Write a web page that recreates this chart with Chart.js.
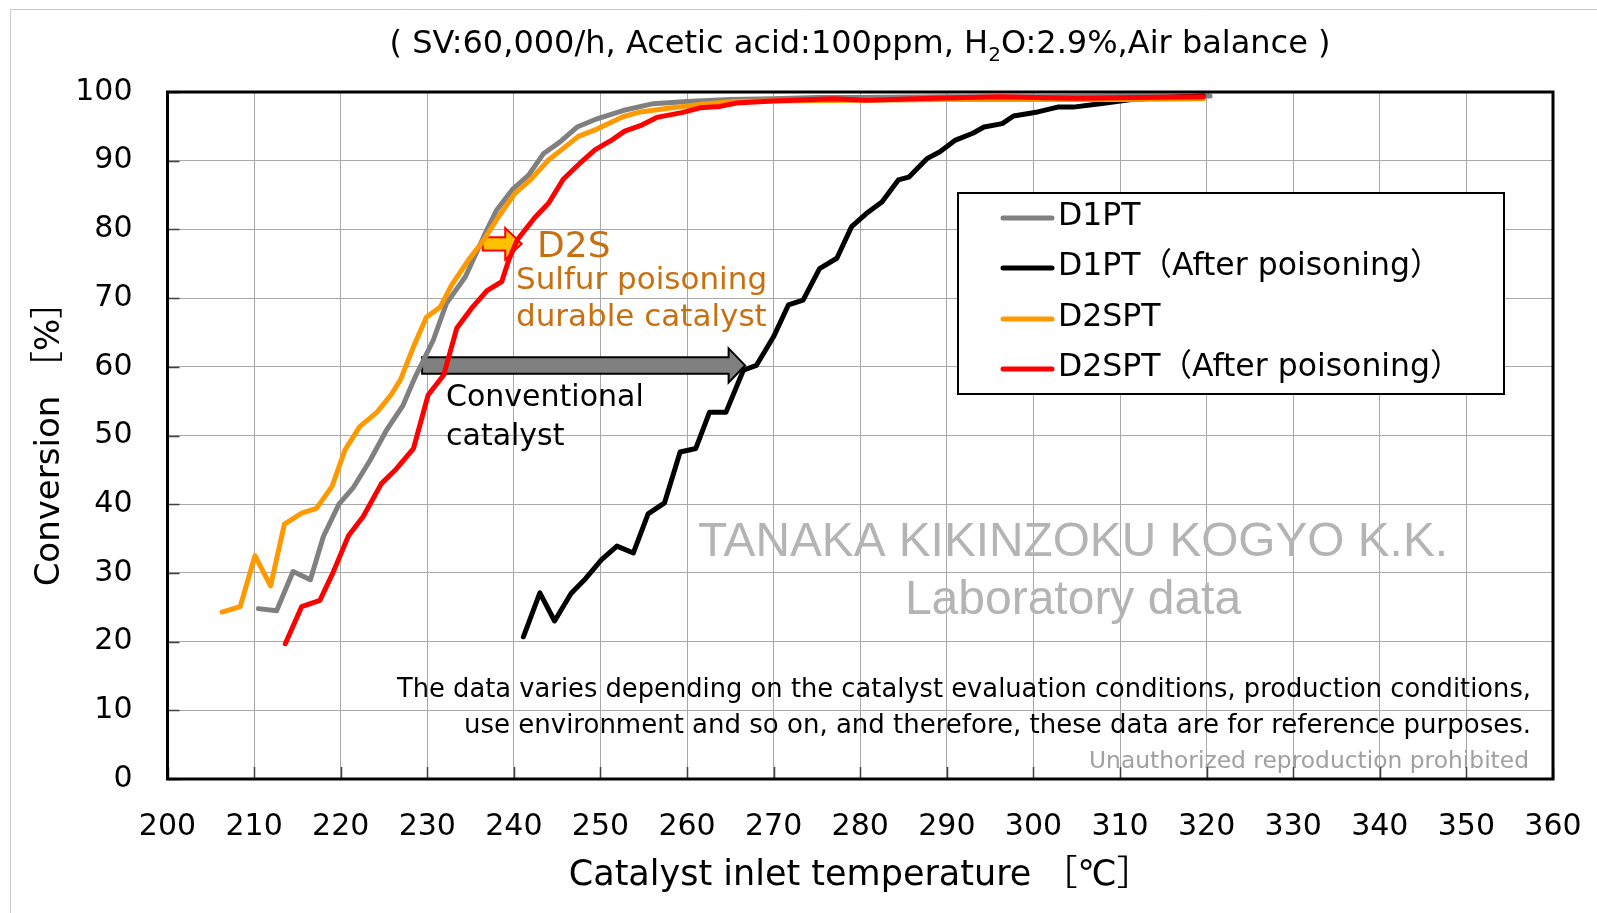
<!DOCTYPE html>
<html>
<head>
<meta charset="utf-8">
<script src="https://cdn.jsdelivr.net/npm/chart.js@4.4.1/dist/chart.umd.min.js"></script>
<style>
  html, body { margin: 0; padding: 0; background: #fff; }
  canvas { display: block; }
</style>
</head>
<body>
<canvas id="lightoffChart" width="1597" height="913"></canvas>
<script>
// light-off curves: inlet temperature (°C) / conversion (%)
var d1ptTemp = [210.5, 212.6, 214.5, 216.5, 218.0, 219.8, 221.5, 223.4, 225.3, 227.2, 228.6, 230.7, 232.2, 234.4, 236.5, 238.0, 239.9, 241.7, 243.4, 245.3, 247.3, 249.6, 252.6, 256.1, 260.0, 265.0, 270.0, 275.0, 280.0, 290.0, 300.0, 310.0, 320.4];
var d1ptConv = [24.8, 24.5, 30.2, 29.0, 35.3, 40.0, 42.5, 46.4, 50.8, 54.4, 58.5, 63.9, 69.2, 73.1, 78.9, 82.8, 85.9, 87.9, 91.0, 92.7, 94.9, 96.1, 97.3, 98.3, 98.6, 98.9, 99.0, 99.2, 99.2, 99.3, 99.3, 99.4, 99.4];

var d1ptPoisonTemp = [241.1, 243.0, 244.7, 246.6, 248.3, 250.1, 251.9, 253.8, 255.5, 257.4, 259.2, 261.0, 262.6, 264.5, 266.5, 268.0, 270.0, 271.7, 273.4, 275.3, 277.3, 279.0, 280.7, 282.5, 284.4, 285.6, 287.7, 289.2, 291.0, 293.0, 294.3, 296.4, 297.7, 300.5, 302.8, 304.6, 307.7, 311.3, 315.4, 319.6];
var d1ptPoisonConv = [20.7, 27.1, 23.0, 27.0, 29.2, 31.9, 33.9, 32.9, 38.6, 40.2, 47.6, 48.1, 53.4, 53.4, 59.5, 60.2, 64.4, 69.0, 69.7, 74.3, 75.8, 80.4, 82.3, 84.0, 87.2, 87.6, 90.3, 91.3, 93.0, 94.0, 94.9, 95.4, 96.5, 97.1, 97.8, 97.8, 98.3, 98.9, 99.2, 99.4];

var d2sptTemp = [206.3, 208.4, 210.1, 211.9, 213.5, 215.5, 217.2, 219.0, 220.5, 222.2, 224.2, 225.8, 226.9, 228.4, 229.9, 231.5, 232.8, 234.9, 236.5, 238.2, 240.1, 241.9, 244.0, 245.7, 247.4, 249.6, 252.6, 254.6, 257.6, 261.5, 265.3, 270.0, 280.0, 290.0, 300.0, 310.0, 319.6];
var d2sptConv = [24.3, 25.1, 32.5, 28.1, 37.1, 38.7, 39.4, 42.6, 47.9, 51.3, 53.4, 55.9, 58.1, 62.9, 67.2, 68.7, 71.9, 75.8, 78.4, 81.8, 85.2, 87.2, 90.1, 91.8, 93.5, 94.6, 96.4, 97.1, 97.6, 98.2, 98.6, 98.7, 98.8, 98.9, 98.9, 98.9, 99.0];

var d2sptPoisonTemp = [213.6, 215.5, 217.6, 219.1, 220.9, 222.6, 224.7, 226.4, 228.4, 230.1, 231.9, 233.4, 235.1, 236.9, 238.6, 239.4, 240.4, 242.4, 244.0, 245.7, 247.6, 249.4, 251.3, 252.8, 254.6, 256.5, 259.4, 261.5, 263.8, 265.7, 269.9, 276.9, 280.7, 288.4, 296.1, 305.0, 312.0, 319.6];
var d2sptPoisonConv = [19.7, 25.1, 26.0, 30.0, 35.4, 38.2, 43.0, 45.1, 48.1, 55.9, 58.8, 65.6, 68.5, 71.1, 72.4, 75.5, 78.5, 81.7, 83.8, 87.3, 89.6, 91.6, 93.0, 94.3, 95.1, 96.3, 97.0, 97.7, 97.9, 98.4, 98.7, 99.0, 98.8, 99.1, 99.3, 99.1, 99.2, 99.3];

var seriesLabels = ['D1PT', 'D1PT（After poisoning）', 'D2SPT', 'D2SPT（After poisoning）'];
var seriesColors = ['#808080', '#000000', '#FF9900', '#FF0000'];
var xTickValues = [200, 210, 220, 230, 240, 250, 260, 270, 280, 290, 300, 310, 320, 330, 340, 350, 360];
var yTickValues = [0, 10, 20, 30, 40, 50, 60, 70, 80, 90, 100];

var FONT = '"DejaVu Sans", "Noto Sans CJK JP", sans-serif';

function toPoints(xs, ys) {
    return xs.map(function (x, i) { return { x: x, y: ys[i] }; });
}

function drawArrow(ctx, x0, xHead, xTip, yc, bodyHalf, headHalf, fill, stroke) {
    ctx.beginPath();
    ctx.moveTo(x0, yc - bodyHalf);
    ctx.lineTo(xHead, yc - bodyHalf);
    ctx.lineTo(xHead, yc - headHalf);
    ctx.lineTo(xTip, yc);
    ctx.lineTo(xHead, yc + headHalf);
    ctx.lineTo(xHead, yc + bodyHalf);
    ctx.lineTo(x0, yc + bodyHalf);
    ctx.closePath();
    ctx.fillStyle = fill;
    ctx.fill();
    ctx.lineWidth = 2;
    ctx.strokeStyle = stroke;
    ctx.lineJoin = 'miter';
    ctx.stroke();
}

var decorations = {
    id: 'decorations',
    beforeDraw: function (chart) {
        var ctx = chart.ctx;
        ctx.save();
        ctx.fillStyle = '#fff';
        ctx.fillRect(0, 0, chart.width, chart.height);
        ctx.strokeStyle = '#c8c8c8';
        ctx.lineWidth = 1;
        ctx.beginPath();
        ctx.moveTo(10.5, chart.height);
        ctx.lineTo(10.5, 9.5);
        ctx.lineTo(chart.width, 9.5);
        ctx.stroke();
        ctx.restore();
    },
    beforeDatasetsDraw: function (chart) {
        var ctx = chart.ctx;
        var xs = chart.scales.x, ys = chart.scales.y;
        ctx.save();

        // watermark
        ctx.fillStyle = '#b4b4b4';
        ctx.textAlign = 'center';
        ctx.textBaseline = 'middle';
        ctx.font = '48px "Liberation Sans", Arial, sans-serif';
        ctx.fillText('TANAKA KIKINZOKU KOGYO K.K.', 1073, 543, 750);
        ctx.fillText('Laboratory data', 1073, 601, 340);

        // notes
        ctx.textAlign = 'right';
        ctx.fillStyle = '#000';
        ctx.font = '26px ' + FONT;
        ctx.fillText('The data varies depending on the catalyst evaluation conditions, production conditions,', 1531, 690, 1134);
        ctx.fillText('use environment and so on, and therefore, these data are for reference purposes.', 1531, 726, 1067);
        ctx.fillStyle = '#a0a0a0';
        ctx.font = '23.5px ' + FONT;
        ctx.fillText('Unauthorized reproduction prohibited', 1529, 762, 440);

        // conventional catalyst shift
        drawArrow(ctx, xs.getPixelForValue(229.4), xs.getPixelForValue(264.8), xs.getPixelForValue(266.7),
            ys.getPixelForValue(60.2), 8.3, 17, '#808080', '#000');
        ctx.textAlign = 'left';
        ctx.fillStyle = '#000';
        ctx.font = '30px ' + FONT;
        ctx.fillText('Conventional', 446, 398);
        ctx.fillText('catalyst', 446, 437);

        // D2S shift
        drawArrow(ctx, xs.getPixelForValue(236.4), xs.getPixelForValue(239.0), xs.getPixelForValue(240.9),
            ys.getPixelForValue(77.9), 6.7, 15.8, '#FFC000', '#FF0000');
        ctx.fillStyle = '#C87010';
        ctx.font = '36px ' + FONT;
        ctx.fillText('D2S', 537, 248);
        ctx.font = '31px ' + FONT;
        ctx.fillText('Sulfur poisoning', 516, 281);
        ctx.fillText('durable catalyst', 516, 318);
        ctx.restore();
    },
    afterDatasetsDraw: function (chart) {
        var ctx = chart.ctx;
        var a = chart.chartArea;
        var xs = chart.scales.x, ys = chart.scales.y;
        ctx.save();
        // inner tick marks
        ctx.strokeStyle = '#404040';
        ctx.lineWidth = 1.5;
        ctx.beginPath();
        xTickValues.forEach(function (v) {
            var px = Math.round(xs.getPixelForValue(v)) + 0.5;
            ctx.moveTo(px, a.bottom);
            ctx.lineTo(px, a.bottom - 12);
        });
        yTickValues.forEach(function (v) {
            var py = Math.round(ys.getPixelForValue(v)) + 0.5;
            ctx.moveTo(a.left, py);
            ctx.lineTo(a.left + 12, py);
        });
        ctx.stroke();
        // plot frame
        ctx.strokeStyle = '#000';
        ctx.lineWidth = 3;
        ctx.strokeRect(a.left, a.top, a.right - a.left, a.bottom - a.top);
        ctx.restore();
    },
    afterDraw: function (chart) {
        var ctx = chart.ctx;
        ctx.save();

        // legend box
        ctx.fillStyle = '#fff';
        ctx.fillRect(958, 193, 546, 201);
        ctx.strokeStyle = '#000';
        ctx.lineWidth = 2;
        ctx.strokeRect(958, 193, 546, 201);
        var rows = [217, 267, 318, 368];
        ctx.textAlign = 'left';
        ctx.textBaseline = 'middle';
        ctx.font = '31.5px ' + FONT;
        chart.data.datasets.forEach(function (ds, i) {
            ctx.strokeStyle = ds.borderColor;
            ctx.lineWidth = 5;
            ctx.lineCap = 'round';
            ctx.beginPath();
            ctx.moveTo(1003, rows[i] + 1);
            ctx.lineTo(1052, rows[i] + 1);
            ctx.stroke();
            ctx.fillStyle = '#000';
            ctx.fillText(ds.label, 1058, rows[i]);
        });

        // title with subscript
        var p1 = '( SV:60,000/h, Acetic acid:100ppm, H';
        var p2 = '2';
        var p3 = 'O:2.9%,Air balance )';
        var big = '32px ' + FONT, small = '20px ' + FONT;
        ctx.font = big;
        var w1 = ctx.measureText(p1).width, w3 = ctx.measureText(p3).width;
        ctx.font = small;
        var w2 = ctx.measureText(p2).width;
        var x = 860 - (w1 + w2 + w3) / 2;
        ctx.fillStyle = '#000';
        ctx.font = big;
        ctx.fillText(p1, x, 45);
        ctx.font = small;
        ctx.fillText(p2, x + w1, 56);
        ctx.font = big;
        ctx.fillText(p3, x + w1 + w2, 45);
        ctx.restore();
    }
};

var datasets = [
    { label: seriesLabels[0], data: toPoints(d1ptTemp, d1ptConv), borderColor: seriesColors[0], order: 3 },
    { label: seriesLabels[1], data: toPoints(d1ptPoisonTemp, d1ptPoisonConv), borderColor: seriesColors[1], order: 2 },
    { label: seriesLabels[2], data: toPoints(d2sptTemp, d2sptConv), borderColor: seriesColors[2], order: 1 },
    { label: seriesLabels[3], data: toPoints(d2sptPoisonTemp, d2sptPoisonConv), borderColor: seriesColors[3], order: 0 }
].map(function (ds) {
    ds.showLine = true;
    ds.fill = false;
    ds.tension = 0;
    ds.pointRadius = 0;
    ds.borderWidth = 5;
    ds.borderJoinStyle = 'round';
    ds.borderCapStyle = 'round';
    ds.backgroundColor = ds.borderColor;
    return ds;
});

new Chart(document.getElementById('lightoffChart'), {
    type: 'scatter',
    data: { datasets: datasets },
    options: {
        responsive: false,
        animation: false,
        devicePixelRatio: 1,
        layout: { padding: { top: 92, right: 44, bottom: 0, left: 0 } },
        plugins: {
            legend: { display: false },
            tooltip: { enabled: false },
            title: { display: false }
        },
        scales: {
            x: {
                type: 'linear',
                min: 200,
                max: 360,
                afterBuildTicks: function (axis) {
                    axis.ticks = xTickValues.map(function (v) { return { value: v }; });
                },
                afterFit: function (axis) {
                    axis.height = 134;
                    axis.paddingLeft = 0;
                    axis.paddingRight = 0;
                },
                border: { display: false },
                grid: { color: '#a8a8a8', lineWidth: 1, drawTicks: false },
                ticks: {
                    color: '#000',
                    font: { family: FONT, size: 30 },
                    padding: 30,
                    maxRotation: 0,
                    autoSkip: false
                },
                title: {
                    display: true,
                    text: 'Catalyst inlet temperature ［℃］',
                    color: '#000',
                    font: { family: FONT, size: 35 },
                    padding: { top: 0, bottom: 16 }
                }
            },
            y: {
                type: 'linear',
                min: 0,
                max: 100,
                afterBuildTicks: function (axis) {
                    axis.ticks = yTickValues.map(function (v) { return { value: v }; });
                },
                afterFit: function (axis) {
                    axis.width = 167.5;
                    axis.paddingTop = 0;
                    axis.paddingBottom = 0;
                },
                border: { display: false },
                grid: { color: '#a8a8a8', lineWidth: 1, drawTicks: false },
                ticks: {
                    color: '#000',
                    font: { family: FONT, size: 30 },
                    padding: 35,
                    autoSkip: false
                },
                title: {
                    display: true,
                    text: 'Conversion ［%］',
                    color: '#000',
                    font: { family: FONT, size: 34 },
                    padding: { top: 30, bottom: 0 }
                }
            }
        }
    },
    plugins: [decorations]
});
</script>
</body>
</html>
